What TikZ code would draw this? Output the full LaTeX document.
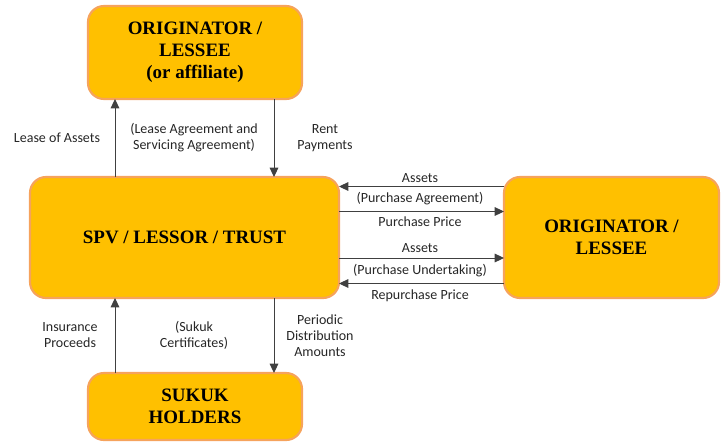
\documentclass[tikz,border=0pt]{standalone}
\usepackage{fontspec}
\setmainfont{Liberation Serif}
\newfontfamily\boxfont{Liberation Serif}
\newfontfamily\lblfont{Carlito}
\usetikzlibrary{arrows.meta}
\definecolor{boxfill}{HTML}{FFC000}
\definecolor{boxline}{HTML}{F6A35C}
\definecolor{arrline}{HTML}{404040}
\tikzset{
  box/.style={draw=boxline, line width=1.6pt, fill=boxfill, rounded corners=12pt,
    align=center, font=\boxfont\fontsize{14.2}{16.5}\selectfont\bfseries, inner sep=0pt, outer sep=0pt},
  arr/.style={draw=arrline, line width=0.75pt, -{Triangle[length=7pt,width=6.5pt]}},
  lbl/.style={align=center, font=\lblfont\fontsize{10.5}{12}\selectfont, text=black!85, inner sep=0pt}
}
\begin{document}
\begin{tikzpicture}[x=0.75pt,y=-0.75pt]
\useasboundingbox (0,0) rectangle (724,443);
\node[box, minimum width=160.5pt, minimum height=69.75pt] (top) at (195,52.5) {ORIGINATOR /\\LESSEE\\(or affiliate)};
\node[box, minimum width=231.75pt, minimum height=90.75pt] (spv) at (184.5,237.5) {SPV / LESSOR / TRUST};
\node[box, minimum width=161.25pt, minimum height=90.75pt] (orig) at (611.5,237.5) {ORIGINATOR /\\LESSEE};
\node[box, minimum width=160.5pt, minimum height=50.25pt] (sukuk) at (195,406.5) {SUKUK\\HOLDERS};
\coordinate (xl) at (115,0);
\coordinate (xr) at (274,0);
\coordinate (ya) at (0,186.5);
\coordinate (yb) at (0,211.5);
\coordinate (yc) at (0,258);
\coordinate (yd) at (0,283.5);
% vertical connectors
\draw[arr] (spv.north -| xl) -- (top.south -| xl);
\draw[arr] (top.south -| xr) -- (spv.north -| xr);
\draw[arr] (sukuk.north -| xl) -- (spv.south -| xl);
\draw[arr] (spv.south -| xr) -- (sukuk.north -| xr);
% horizontal connectors
\draw[arr] (orig.west |- ya) -- (spv.east |- ya);
\draw[arr] (spv.east |- yb) -- (orig.west |- yb);
\draw[arr] (spv.east |- yc) -- (orig.west |- yc);
\draw[arr] (orig.west |- yd) -- (spv.east |- yd);
% labels
\node[lbl] (l1) at (57,138) {Lease of Assets};
\node[lbl] (l2) at (194,138) {(Lease Agreement and\\Servicing Agreement)};
\node[lbl] (l3) at (325,138) {Rent\\Payments};
\node[lbl] (l4) at (420,178.5) {Assets};
\node[lbl] (l5) at (420,199) {(Purchase Agreement)};
\node[lbl] (l6) at (420,221.5) {Purchase Price};
\node[lbl] (l7) at (420,248) {Assets};
\node[lbl] (l8) at (420,270.5) {(Purchase Undertaking)};
\node[lbl] (l9) at (420,295.5) {Repurchase Price};
\node[lbl] (l10) at (70,335) {Insurance\\Proceeds};
\node[lbl] (l11) at (194,335) {(Sukuk\\Certificates)};
\node[lbl] (l12) at (320,335.5) {Periodic\\Distribution\\Amounts};
\end{tikzpicture}
\end{document}
